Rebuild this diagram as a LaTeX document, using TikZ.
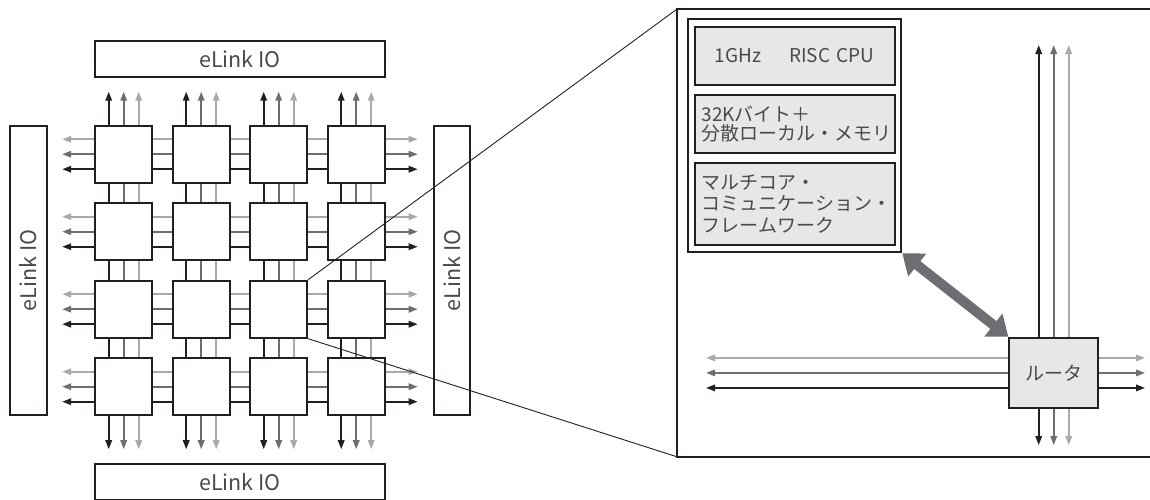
\documentclass[tikz,border=0pt]{standalone}
\usepackage{fontspec}
\setmainfont{Noto Sans CJK JP}
\usetikzlibrary{arrows.meta, calc}

\definecolor{lk}{HTML}{231F20}
\definecolor{dk}{HTML}{6D6E71}
\definecolor{lt}{HTML}{A7A9AC}
\definecolor{boxgray}{HTML}{E6E7E8}
\definecolor{txt}{HTML}{4A4A4C}

\begin{document}
\begin{tikzpicture}[x=1pt, y=-1pt,
  tile/.style={draw=lk, fill=white, line width=2pt, minimum size=57pt, inner sep=0pt},
  iobox/.style={draw=lk, line width=2pt, inner sep=0pt, text=txt, font=\fontsize{21.5}{24}\selectfont},
  fnbox/.style={draw=lk, fill=boxgray, line width=2pt, inner xsep=7pt, inner ysep=0pt,
    text=txt, text width=186pt, font=\fontsize{19}{21.5}\selectfont},
  lnblack/.style={draw=lk, line width=1.7pt},
  lndark/.style={draw=dk, line width=1.7pt},
  lnlight/.style={draw=lt, line width=1.7pt},
  tip/.style={-{Triangle[length=9pt,width=6.5pt]}},
  bigarrow/.style={draw=dk, line width=10pt, {Triangle[length=19pt,width=28pt]}-{Triangle[length=19pt,width=28pt]}},
  zoomln/.style={draw=lk, line width=0.9pt}]
\useasboundingbox (0,0) rectangle (1150,499);
\clip (0,0) rectangle (1150,499);

% eLink IO around the mesh
\node[iobox, minimum width=290pt, minimum height=36pt] (iotop) at (240,59) {eLink IO};
\node[iobox, minimum width=290pt, minimum height=36pt] (iobot) at (240,482) {eLink IO};
\node[iobox, rotate=90, minimum width=288.7pt, minimum height=36.7pt] (ioleft) at (28.3,270.3) {eLink IO};
\node[iobox, rotate=90, minimum width=288.7pt, minimum height=36.7pt] (ioright) at (451.9,270.3) {eLink IO};

% 4x4 mesh
\foreach \r in {1,...,4} {
  \foreach \c in {1,...,4}
    \node[tile] (t\r\c) at ({123.7+77.5*(\c-1)}, {154.2+77.5*(\r-1)}) {};
}

\foreach \r in {1,...,4} {
  \foreach \c [evaluate=\c as \n using int(\c+1)] in {1,2,3} {
    \draw[lnlight] ([yshift=15pt]t\r\c.east) -- ([yshift=15pt]t\r\n.west);
    \draw[lndark] (t\r\c.east) -- (t\r\n.west);
    \draw[lnblack] ([yshift=-15pt]t\r\c.east) -- ([yshift=-15pt]t\r\n.west);
  }
}
\foreach \c in {1,...,4} {
  \foreach \r [evaluate=\r as \n using int(\r+1)] in {1,2,3} {
    \draw[lnblack] ([xshift=-15pt]t\r\c.south) -- ([xshift=-15pt]t\n\c.north);
    \draw[lndark] (t\r\c.south) -- (t\n\c.north);
    \draw[lnlight] ([xshift=15pt]t\r\c.south) -- ([xshift=15pt]t\n\c.north);
  }
}

% arrows out of the mesh
\foreach \c in {1,...,4} {
  \draw[lnblack, tip] ([xshift=-15pt]t1\c.north) -- ++(0,-33);
  \draw[lndark, tip] (t1\c.north) -- ++(0,-33);
  \draw[lnlight, tip] ([xshift=15pt]t1\c.north) -- ++(0,-33);
  \draw[lnblack, tip] ([xshift=-15pt]t4\c.south) -- ++(0,33);
  \draw[lndark, tip] (t4\c.south) -- ++(0,33);
  \draw[lnlight, tip] ([xshift=15pt]t4\c.south) -- ++(0,33);
}
\foreach \r in {1,...,4} {
  \draw[lnlight, tip] ([yshift=15pt]t\r1.west) -- ++(-32,0);
  \draw[lndark, tip] (t\r1.west) -- ++(-32,0);
  \draw[lnblack, tip] ([yshift=-15pt]t\r1.west) -- ++(-32,0);
  \draw[lnlight, tip] ([yshift=15pt]t\r4.east) -- ++(32,0);
  \draw[lndark, tip] (t\r4.east) -- ++(32,0);
  \draw[lnblack, tip] ([yshift=-15pt]t\r4.east) -- ++(32,0);
}

% enlarged core
\coordinate (pnw) at (676.7,9.3);
\coordinate (psw) at (676.7,456.7);
\coordinate (pne) at (1155,9.3);
\coordinate (pse) at (1155,456.7);
\draw[zoomln] (t33.north east) -- (pnw);
\draw[zoomln] (t33.south east) -- (psw);
\draw[draw=lk, line width=2pt] (pne) -- (pnw) -- (psw) -- (pse);

\node[draw=lk, line width=2pt, minimum width=213.6pt, minimum height=233.6pt] (cpuframe) at (794.5,135.5) {};
\node[fnbox, align=center, minimum height=58pt] (cpu) at (794.6,56) {1GHz\hspace{28pt}RISC CPU};
\node[fnbox, align=left, minimum height=58.3pt, font=\fontsize{19}{19.5}\selectfont] (mem) at (794.6,124.2) {32Kバイト＋\\分散ローカル・メモリ};
\node[fnbox, align=left, minimum height=81.4pt] (comm) at (794.6,204) {マルチコア・\\コミュニケーション・\\フレームワーク};

\node[draw=lk, fill=boxgray, line width=2pt, minimum width=88.7pt, minimum height=70.3pt,
  text=txt, font=\fontsize{19}{22}\selectfont] (router) at (1053.7,372.9) {ルータ};

\draw[lnblack, tip] ([xshift=-15pt]router.north) -- ++(0,-291.7);
\draw[lndark, tip] (router.north) -- ++(0,-291.7);
\draw[lnlight, tip] ([xshift=15pt]router.north) -- ++(0,-291.7);
\draw[lnblack, tip] ([xshift=-15pt]router.south) -- ++(0,36);
\draw[lndark, tip] (router.south) -- ++(0,36);
\draw[lnlight, tip] ([xshift=15pt]router.south) -- ++(0,36);
\draw[lnlight, tip] ([yshift=15pt]router.west) -- ++(-302.3,0);
\draw[lndark, tip] (router.west) -- ++(-302.3,0);
\draw[lnblack, tip] ([yshift=-15pt]router.west) -- ++(-302.3,0);
\draw[lnlight, tip] ([yshift=15pt]router.east) -- ++(46,0);
\draw[lndark, tip] (router.east) -- ++(46,0);
\draw[lnblack, tip] ([yshift=-15pt]router.east) -- ++(46,0);

\draw[bigarrow] (cpuframe.south east) -- (router.north west);
\end{tikzpicture}
\end{document}
